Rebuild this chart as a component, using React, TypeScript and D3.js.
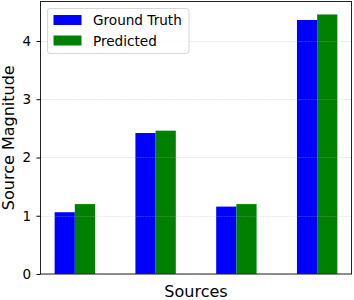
import React from 'react'
import * as d3 from 'd3'

const sources = ['S1', 'S2', 'S3', 'S4']
const groundTruth = [1.06, 2.42, 1.157, 4.36]
const predicted = [1.2, 2.46, 1.2, 4.455]
const yTicks = [0, 1, 2, 3, 4]
const seriesNames = ['Ground Truth', 'Predicted']
const seriesColors = ['#0000ff', '#008000']

const W = 354
const H = 300
const font = 'DejaVu Sans, sans-serif'

export default function App() {
  const ref = React.useRef<SVGSVGElement>(null)

  React.useEffect(() => {
    const svg = d3.select(ref.current)
    svg.selectAll('*').remove()

    const left = 40.5
    const right = 351.5
    const top = 1.5
    const bottom = 274

    // matplotlib-style continuous x, bars width 0.25
    const x = d3.scaleLinear().domain([-0.425, sources.length - 0.575]).range([left, right])
    const y = d3.scaleLinear().domain([0, 4.6775]).range([bottom, top])
    const bw = 0.25

    const series = [groundTruth, predicted]
    series.forEach((vals, s) => {
      svg.append('g')
        .selectAll('rect')
        .data(vals)
        .enter()
        .append('rect')
        .attr('x', (d, i) => x(i - bw + s * bw))
        .attr('width', x(bw) - x(0))
        .attr('y', d => y(d))
        .attr('height', d => bottom - y(d))
        .attr('fill', seriesColors[s])
    })

    // grid on top
    svg.append('g')
      .selectAll('line')
      .data(yTicks)
      .enter()
      .append('line')
      .attr('x1', left)
      .attr('x2', right)
      .attr('y1', d => Math.round(y(d)) + 0.5)
      .attr('y2', d => Math.round(y(d)) + 0.5)
      .attr('stroke', '#b0b0b0')
      .attr('stroke-opacity', 0.3)
      .attr('stroke-dasharray', '2,1')

    // frame
    svg.append('rect')
      .attr('x', left)
      .attr('y', top)
      .attr('width', right - left)
      .attr('height', bottom - top)
      .attr('fill', 'none')
      .attr('stroke', '#222')
      .attr('stroke-width', 1)

    const yAxis = svg.append('g')
      .attr('transform', `translate(${left},0)`)
      .call(d3.axisLeft(y).tickValues(yTicks).tickFormat(d3.format('d')).tickSize(4).tickPadding(5.5))
    yAxis.select('.domain').remove()
    yAxis.selectAll('text').style('font-family', font).style('font-size', '13.5px').attr('fill', '#000')
    yAxis.selectAll('line').attr('stroke', '#000')

    svg.append('text')
      .attr('transform', `translate(14,${(top + bottom) / 2}) rotate(-90)`)
      .attr('text-anchor', 'middle')
      .style('font-family', font)
      .style('font-size', '16px')
      .text('Source Magnitude')

    svg.append('text')
      .attr('x', (left + right) / 2)
      .attr('y', 296.5)
      .attr('text-anchor', 'middle')
      .style('font-family', font)
      .style('font-size', '16px')
      .text('Sources')

    // legend
    const lg = svg.append('g')
    lg.append('rect')
      .attr('x', 47.5)
      .attr('y', 8.5)
      .attr('width', 141.5)
      .attr('height', 45)
      .attr('rx', 2.5)
      .attr('fill', '#fff')
      .attr('fill-opacity', 0.8)
      .attr('stroke', '#d6d6d6')
    seriesNames.forEach((name, i) => {
      lg.append('rect')
        .attr('x', 53.5)
        .attr('y', 15 + i * 20.5)
        .attr('width', 28)
        .attr('height', 10)
        .attr('fill', seriesColors[i])
      lg.append('text')
        .attr('x', 93)
        .attr('y', 25 + i * 20.5)
        .style('font-family', font)
        .style('font-size', '13.6px')
        .text(name)
    })
  }, [])

  return (
    <svg ref={ref} width={W} height={H} style={{ position: 'absolute', left: 0, top: 0, background: '#fff' }} />
  )
}
